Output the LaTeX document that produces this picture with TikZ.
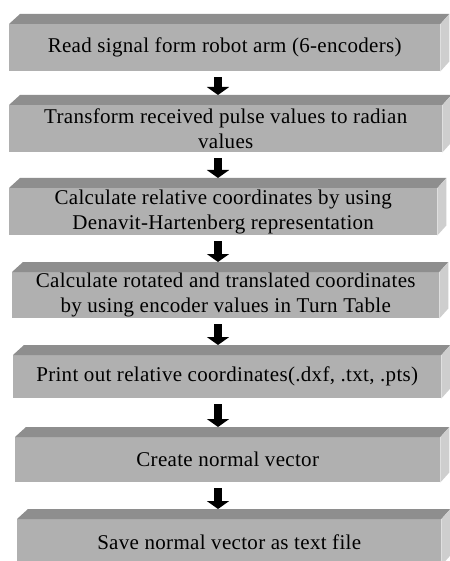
\documentclass[tikz,border=0pt]{standalone}
\usepackage{fontspec}
\setmainfont{Liberation Serif}[LetterSpace=1.5]
\usetikzlibrary{arrows.meta,calc}
\definecolor{frontgray}{RGB}{176,176,176}
\definecolor{topgray}{RGB}{142,142,142}
\definecolor{sidegray}{RGB}{206,206,206}
\tikzset{
  stepbox/.style={fill=frontgray, draw=none, inner sep=0pt, align=center,
    font=\fontsize{21}{25}\selectfont, anchor=north west},
  topface/.style={fill=topgray},
  sideface/.style={fill=sidegray},
  flowarrow/.style={draw=black, line width=8pt,
    -{Triangle[length=8pt,width=22pt]}, shorten <=6pt}
}
\newcommand{\boxfaces}[1]{%
  \fill[topface] (#1.north west) -- ++(11pt,10pt) -- ($(#1.north east)+(9pt,10pt)$) -- (#1.north east) -- cycle;
  \fill[sideface] (#1.north east) -- ++(9pt,10pt) -- ($(#1.south east)+(9pt,10pt)$) -- (#1.south east) -- cycle;
  \coordinate (#1t) at ([yshift=10pt]#1.north);
}
\begin{document}
\begin{tikzpicture}
\fill[white] (0pt,0pt) rectangle (449pt,-561pt);
\useasboundingbox (0pt,0pt) rectangle (449pt,-561pt);
\coordinate (ax) at (218pt,0pt);

\node[stepbox, minimum width=431pt, minimum height=47pt] (b1) at (9pt,-24pt)
  {Read signal form robot arm (6-encoders)};
\node[stepbox, minimum width=433pt, minimum height=47pt] (b2) at (9pt,-105pt)
  {Transform received pulse values to radian\\values};
\node[stepbox, minimum width=428pt, minimum height=47pt] (b3) at (9pt,-188pt)
  {Calculate relative coordinates by using\\Denavit-Hartenberg representation};
\node[stepbox, minimum width=427pt, minimum height=46pt] (b4) at (12pt,-272pt)
  {Calculate rotated and translated coordinates\\by using encoder values in Turn Table};
\node[stepbox, minimum width=428pt, minimum height=43pt] (b5) at (13pt,-355pt)
  {Print out relative coordinates(.dxf, .txt, .pts)};
\node[stepbox, minimum width=425pt, minimum height=45pt] (b6) at (15pt,-437pt)
  {Create normal vector};
\node[stepbox, minimum width=424pt, minimum height=46pt] (b7) at (17pt,-519pt)
  {Save normal vector as text file};

\boxfaces{b1}
\boxfaces{b2}
\boxfaces{b3}
\boxfaces{b4}
\boxfaces{b5}
\boxfaces{b6}
\boxfaces{b7}

\draw[flowarrow] (b1.south -| ax) -- (b2t -| ax);
\draw[flowarrow] (b2.south -| ax) -- (b3t -| ax);
\draw[flowarrow] (b3.south -| ax) -- (b4t -| ax);
\draw[flowarrow] (b4.south -| ax) -- (b5t -| ax);
\draw[flowarrow] (b5.south -| ax) -- (b6t -| ax);
\draw[flowarrow] (b6.south -| ax) -- (b7t -| ax);
\end{tikzpicture}
\end{document}
